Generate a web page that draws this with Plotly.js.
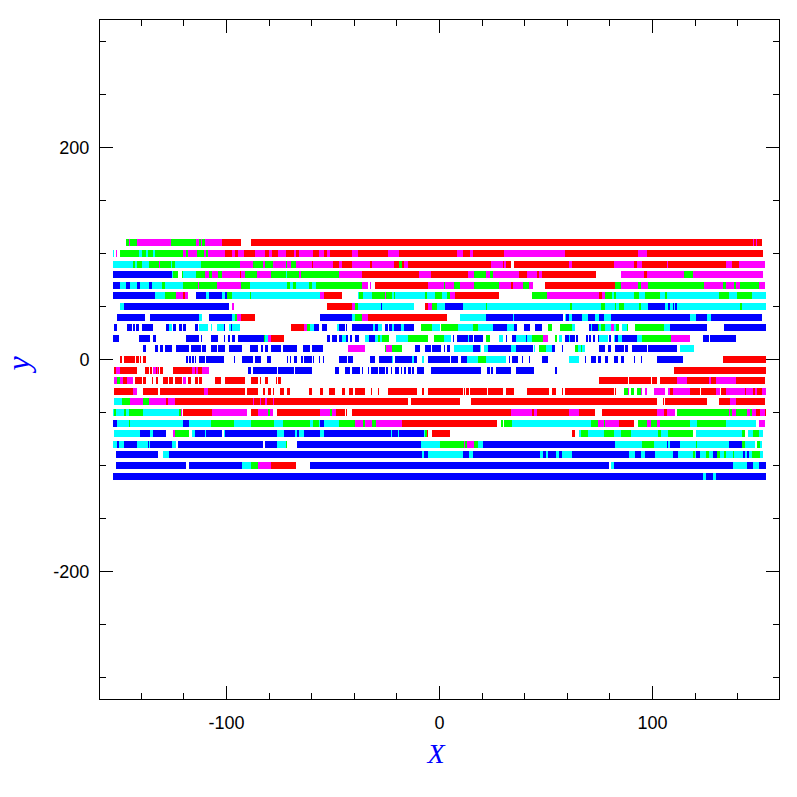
<!DOCTYPE html>
<html><head><meta charset="utf-8">
<script src="https://cdn.plot.ly/plotly-3.0.1.min.js"></script>
<style>html,body{margin:0;padding:0;background:#fff}.scatterlayer path{shape-rendering:crispEdges}</style>
</head><body><div id="chart" style="width:797px;height:797px"></div>
<script>
// Each row: colour code, start x, end x
const row111=['g',-147.4,-145.7,'m',-145.7,-145.1,'g',-145.1,-142.2,'m',-142.2,-126.3,'g',-126.3,-114.5,'m',-114.5,-112.7,'g',-112.7,-112,'m',-112,-111.4,'g',-111.4,-110.2,'m',-110.2,-102.3,'r',-102.3,-93.4,'m',-93.4,-93,'r',-88.7,147.2,'m',147.2,147.7,'r',147.7,148.7,'m',148.7,149.3,'r',149.3,151.5];
const row101=['c',-153.5,-153,'m',-152.1,-151.3,'g',-149.8,-141.2,'c',-141.2,-139.9,'g',-139.9,-138,'c',-138,-136.8,'g',-136.8,-134.6,'c',-134.6,-133.6,'g',-133.6,-128.6,'m',-128.6,-128.2,'g',-128.2,-120.6,'m',-120.6,-118.8,'g',-118.8,-118.3,'m',-118.3,-113.8,'g',-113.8,-110.8,'m',-110.8,-109.4,'g',-109.4,-108.9,'m',-108.9,-100.5,'r',-100.5,-97.6,'m',-97.6,-96.2,'r',-96.2,-94.8,'m',-94.8,-92,'r',-92,-86.8,'m',-86.8,-81.7,'r',-81.7,-80.1,'m',-80.1,-78.5,'r',-78.5,-76,'m',-76,-72.3,'r',-72.3,-68.5,'m',-68.5,-67.6,'r',-67.6,-66,'m',-66,-59.6,'r',-59.6,-56.8,'m',-56.8,-54.4,'r',-54.4,-52.6,'m',-52.6,-51.6,'r',-51.6,-41.3,'m',-41.3,-38.5,'r',-38.5,-24.4,'m',-24.4,-18.8,'r',-18.8,8.4,'m',8.4,10.8,'r',10.8,14.5,'m',14.5,15.5,'r',15.5,30.5,'m',30.5,58.7,'r',58.7,93.4,'m',93.4,97.2,'r',97.2,152.1];
const row91=['c',-153.5,-144.1,'g',-144.1,-143.2,'c',-143.2,-141.8,'g',-141.8,-139.9,'c',-139.9,-136.6,'g',-136.6,-131.9,'m',-131.9,-131.4,'g',-131.4,-126.3,'c',-126.3,-125.8,'g',-125.8,-124.4,'c',-124.4,-112.2,'g',-112.2,-93.9,'m',-93.9,-90.1,'g',-90.1,-89.7,'m',-89.7,-87.8,'g',-87.8,-83.1,'m',-83.1,-82.1,'g',-82.1,-78.4,'m',-78.4,-72.3,'g',-72.3,-71.4,'m',-71.4,-69.9,'g',-69.9,-67.6,'m',-67.6,-60.1,'r',-60.1,-59.6,'m',-59.6,-49.8,'r',-49.8,-47,'m',-47,-46,'r',-46,-41.3,'m',-41.3,-32.4,'r',-32.4,-31.5,'m',-31.5,-21.2,'r',-21.2,-18.8,'g',-18.8,-17.4,'r',-17.4,-16.9,'m',-16.9,-14.6,'r',-14.6,24.4,'m',24.4,29.6,'r',29.6,30.5,'m',30.5,31,'r',31,33.8,'r',35.2,60.6,'m',60.6,62.4,'r',62.4,81.7,'m',81.7,91.5,'r',91.5,92.5,'m',92.5,95.3,'r',95.3,106.6,'m',106.6,107.5,'r',107.5,134.7,'m',134.7,137.5,'r',137.5,140.4,'m',140.4,153];
const row81=['b',-153.5,-125.8,'c',-125.8,-125.3,'g',-125.3,-123,'g',-121.1,-120.2,'c',-120.2,-114.5,'g',-114.5,-110.3,'m',-110.3,-108,'g',-108,-106.6,'m',-106.6,-103.8,'g',-103.8,-102.3,'m',-102.3,-93.9,'r',-93.9,-93,'m',-93,-91.5,'g',-91.5,-85.9,'m',-85.9,-79.3,'g',-79.3,-72.3,'c',-72.3,-71.8,'g',-71.8,-66.2,'m',-66.2,-65.2,'g',-65.2,-47,'m',-47,-36.2,'r',-36.2,-9.4,'m',-9.4,-3.8,'r',-3.8,13.6,'m',13.6,16.4,'g',16.4,21.6,'m',21.6,23.9,'g',23.9,24.9,'m',24.9,37.5,'r',37.5,41.3,'m',41.3,46,'r',46,46.9,'m',46.9,48.3,'r',48.3,73.7,'m',85.4,95.8,'g',95.8,96.2,'r',96.2,97.2,'m',97.2,115,'g',115,118.8,'m',118.8,147.9,'g',147.9,148.3,'m',148.3,152.1];
const row71=['b',-153.5,-149.8,'c',-149.8,-147.4,'b',-147.4,-145.1,'c',-145.1,-141.8,'b',-141.8,-140.4,'c',-140.4,-136.6,'b',-136.6,-135.2,'c',-135.2,-130.5,'g',-130.5,-129.1,'c',-129.1,-120.6,'g',-120.6,-113.6,'m',-113.6,-112.7,'g',-112.7,-104.7,'m',-104.7,-93.4,'g',-93.4,-89.2,'c',-89.2,-71.8,'g',-71.8,-70.4,'c',-70.4,-69,'g',-69,-67.6,'c',-67.6,-61.5,'g',-61.5,-60.1,'c',-60.1,-58.2,'g',-58.2,-36.6,'m',-36.6,-33.8,'g',-33.8,-33.4,'m',-32.4,-32,'r',-30.1,-5.2,'m',-5.2,-3.3,'m',-3.3,2.3,'g',2.3,2.8,'m',2.8,7,'g',7,9.8,'m',9.8,16.4,'g',16.4,28.1,'m',28.1,29.1,'m',29.1,33.8,'r',33.8,34.7,'m',34.7,39.4,'g',39.4,42.2,'m',42.2,44.1,'r',49.7,82.6,'g',82.6,85.4,'m',85.4,93.4,'g',93.4,94.4,'m',94.4,98.1,'g',98.1,124.4,'m',124.4,131,'g',131,131.4,'m',131.4,132.9,'g',132.9,134.7,'m',134.7,138.5,'g',138.5,139,'m',139,141.3,'g',141.3,150.2,'m',150.2,152.6];
const row61=['b',-153.5,-133.8,'c',-133.8,-129.1,'g',-129.1,-123.9,'m',-123.9,-120.6,'r',-120.6,-119.7,'m',-119.7,-118.3,'g',-116.4,-116,'b',-114.5,-109.4,'c',-109.4,-108.4,'b',-108.4,-101.9,'c',-101.9,-100.9,'b',-100.9,-100,'g',-100,-97.2,'c',-97.2,-89.2,'g',-89.2,-88.7,'c',-88.7,-61,'b',-61,-60.6,'c',-60.6,-56.3,'g',-56.3,-55.9,'m',-55.9,-54,'r',-54,-46,'c',-38.5,-37.6,'g',-37.6,-35.7,'c',-35.7,-31.5,'g',-31.5,-25.8,'m',-25.8,-24.9,'g',-24.9,-22.1,'c',-22.1,-21.5,'g',-21.5,-20.7,'c',-20.7,-6.6,'g',-6.6,-6.1,'c',-6.1,-4.2,'g',-4.2,-3.8,'c',-3.8,-1.9,'g',-1.9,1.4,'c',1.4,3.3,'g',3.3,5.1,'m',5.1,7.5,'r',7.5,27.7,'g',43.6,50.7,'m',50.7,75.1,'r',75.1,76.5,'m',76.5,77.5,'g',77.5,81.2,'c',81.2,81.7,'g',81.7,83.1,'c',83.1,91.1,'g',91.1,93.9,'c',93.9,96.7,'g',96.7,103.3,'c',103.3,106.1,'g',106.1,106.6,'c',106.6,131,'g',131,135.7,'c',135.7,139.9,'g',139.9,140.4,'c',140.4,140.8,'g',140.8,146.9,'c',146.9,153.5];
const row51=['c',-150.2,-148.3,'b',-148.3,-99,'m',-97.2,-96.7,'r',-52.6,-40.9,'m',-40.9,-39.5,'g',-39.5,-38.5,'c',-38.5,-27.3,'b',-27.3,-26.8,'c',-26.8,-11.8,'r',-6.6,-5.2,'m',-5.2,-3.3,'g',-3.3,-1,'c',-1,2.8,'b',2.8,11.2,'c',11.2,22,'g',22,22.5,'c',22.5,61.5,'g',61.5,62.4,'c',62.4,76,'g',76,77.5,'c',77.5,82.6,'g',82.6,83.1,'c',83.1,84.5,'g',84.5,86.8,'c',86.8,93.9,'g',93.9,94.4,'c',94.4,98.1,'b',98.1,106.1,'c',106.1,107.5,'b',107.5,108,'c',108,109.8,'b',109.8,110.3,'c',110.3,110.8,'b',110.8,111.7,'c',111.7,141.3,'g',141.3,141.8,'c',141.8,153.5];
const row41=['b',-151.2,-138.5,'b',-135.7,-113.1,'c',-113.1,-111.7,'b',-108.4,-97.2,'c',-97.2,-96.2,'g',-96.2,-95.3,'m',-95.3,-93.4,'r',-93.4,-86.8,'b',-56.3,-40.9,'c',-40.9,-39.5,'g',-39.5,-36.6,'m',-36.6,-33.8,'r',-33.8,3.3,'c',9.4,22,'b',22,34.7,'c',34.7,35.2,'b',35.2,58.2,'c',58.7,59.6,'b',59.6,61,'c',61,62,'b',62,67.1,'c',67.1,69.9,'b',69.9,72.8,'c',72.8,75.1,'b',75.1,77,'c',77,80.7,'b',80.7,117.4,'c',117.4,120.2,'b',120.2,125.8,'c',125.8,127.7,'b',127.7,129.6,'b',129.6,151.2];
const row31=['b',-153,-151.2,'b',-150.2,-149.8,'b',-146.5,-144.6,'b',-144.1,-143.2,'b',-142.7,-141.3,'b',-139.9,-134.3,'b',-128.6,-126.8,'c',-126.8,-125.8,'b',-124.9,-123.5,'b',-122.5,-121.1,'b',-120.6,-119.2,'b',-116.4,-116,'b',-115,-113.6,'c',-112.7,-108.9,'c',-107.5,-107,'m',-107,-106.6,'c',-104.7,-102.3,'g',-102.3,-101.9,'c',-101.9,-101.4,'b',-101.4,-100.5,'c',-99,-98.1,'b',-98.1,-97.2,'c',-97.2,-96.2,'b',-96.2,-95.8,'c',-95.8,-93.9,'r',-69.5,-63.4,'m',-63.4,-62,'g',-62,-60.6,'c',-60.6,-59.1,'b',-59.1,-56.8,'b',-55.4,-53,'c',-49.3,-48.9,'c',-47.9,-47,'b',-47,-44.6,'b',-43.7,-43.2,'b',-41.3,-31,'c',-31,-30.1,'b',-30.1,-28.7,'c',-28.7,-26.8,'b',-25.8,-24.4,'b',-23.5,-22.1,'c',-22.1,-21.2,'b',-21.2,-18.3,'c',-18.3,-16.5,'b',-16.5,-12.2,'c',-10.8,-10.4,'g',-8.5,-3.3,'c',-3.3,0.4,'g',0.9,8.9,'c',8.9,15.9,'g',15.9,18.3,'c',18.3,25.3,'b',25.3,31.9,'c',31.9,33.3,'c',33.3,35.2,'b',35.2,36.6,'b',39.9,42.7,'b',45,48.3,'g',51.1,52.6,'c',52.6,53,'g',56.8,60.6,'c',60.6,61,'g',61,62.4,'c',62.4,63.8,'b',70.4,70.9,'c',70.9,71.8,'b',71.8,74.2,'g',74.2,75.1,'c',75.1,76,'g',76,77.5,'c',77.5,80.3,'m',80.7,81.7,'c',81.7,83.1,'g',83.1,84.5,'c',85.9,87.8,'g',87.8,88.7,'g',92,105.2,'c',105.2,108.4,'b',108.4,125.8,'b',133.8,153.5];
const row21=['b',-153.5,-150.7,'b',-141.3,-135.7,'b',-134.7,-132.9,'b',-119.2,-112.7,'b',-112.2,-111.3,'b',-107.5,-107,'b',-106.6,-103.8,'b',-101.4,-100.5,'b',-99.5,-98.6,'b',-97.2,-95.8,'b',-94.4,-82.6,'g',-82.6,-81.7,'c',-81.7,-80.7,'m',-80.7,-78.9,'r',-78.9,-72.8,'b',-52.6,-51.2,'b',-50.7,-47.9,'b',-47,-46,'c',-46,-43.7,'b',-43.7,-42.8,'b',-41.8,-40.9,'b',-39.5,-37.6,'c',-35.2,-32.9,'b',-32.9,-30.5,'c',-30.5,-29,'g',-29,-28,'c',-28,-27,'g',-27,-25.8,'g',-25.4,-23.5,'c',-20.2,-15,'g',-15,-5.2,'g',-2.8,1.9,'c',1.9,5.6,'b',6.5,7,'b',8,13.6,'c',13.6,14,'b',14,15.9,'b',16.4,20.6,'g',21.6,23.9,'c',27.7,29.6,'b',31.4,31.9,'b',32.4,32.8,'b',34.2,35.7,'c',36.1,40.4,'b',40.4,41.3,'c',41.3,43.2,'g',43.2,48.8,'m',48.8,51.1,'g',54.4,55.4,'c',55.9,57.3,'b',59.1,60.6,'c',60.6,61.5,'b',61.5,63.4,'b',64.3,64.8,'b',69,69.9,'b',70.4,70.9,'b',72.3,73.2,'b',74.6,75.1,'c',75.1,78.9,'b',79.8,80.3,'c',82.1,82.6,'b',82.6,84,'c',84,85.9,'b',85.9,92.5,'c',92.5,95.3,'g',95.3,108.9,'m',108.9,117.4,'g',117.4,117.8,'b',123.5,126.3,'b',126.8,139];
const row11=['b',-139.4,-138,'b',-133.8,-132.4,'b',-131,-130,'b',-129.1,-125.8,'b',-123.9,-117.4,'b',-116.9,-114.5,'b',-114.1,-112.2,'b',-111.3,-109.4,'b',-107.5,-104.7,'b',-103.8,-100.5,'b',-99,-92.5,'b',-89.2,-85,'b',-84,-83.1,'b',-82.1,-80.7,'b',-79.3,-74.2,'b',-73.7,-67.1,'b',-64.3,-61,'b',-60.1,-54.9,'m',-42.8,-35.2,'g',-35.2,-34.8,'g',-25.8,-24.9,'m',-24.9,-22.1,'g',-22.1,-17.4,'b',-16.9,-16.5,'b',-11.3,-9,'b',-6.6,-4.2,'b',-3.3,0.9,'b',1.9,2.8,'b',3.7,4.7,'c',7,15.5,'b',15.9,19.2,'c',19.2,19.7,'b',20.2,20.6,'c',21.1,23,'b',23,33.8,'c',33.8,35.7,'b',35.7,44.1,'c',44.6,45,'g',46.5,50.2,'c',50.2,53,'b',53,54.4,'b',57.7,58.2,'b',58.7,59.1,'g',63.8,64.8,'c',64.8,66.2,'g',66.2,66.7,'c',66.7,68.1,'b',75.1,77.5,'b',79.3,80.3,'b',82.6,83.6,'b',84,86.8,'b',87.3,88.7,'b',90.6,97.2,'b',98.1,111.7,'c',113.1,119.7];
const row1=['r',-151.6,-151.2,'r',-149.8,-149.3,'r',-147.9,-143.2,'r',-142.7,-141.3,'r',-140.8,-140,'r',-139.4,-138,'b',-119.2,-118.3,'b',-117.8,-116.9,'b',-116.4,-115.5,'b',-115,-114.1,'b',-112.7,-110.3,'b',-109.8,-107,'b',-106.6,-101.4,'b',-96.7,-96.2,'b',-92.5,-87.8,'b',-86.8,-84,'b',-82.1,-81.7,'b',-81.2,-80.7,'b',-80.3,-78.9,'b',-74.6,-74.2,'b',-71.8,-70.9,'b',-70.4,-69.5,'b',-68.5,-67.1,'b',-65.2,-64.3,'b',-63.8,-60.1,'b',-59.6,-58.7,'b',-57.7,-57.3,'b',-56.8,-55.9,'b',-54.9,-54,'b',-47.4,-43.2,'b',-42.8,-40.4,'b',-32.4,-30.1,'b',-28.2,-27.7,'b',-27.3,-22.1,'c',-22.1,-21.6,'b',-20.7,-12.7,'c',-12.7,-12.2,'b',-12.2,-10.4,'c',-8,-7.1,'b',-5.2,4.7,'b',5.6,8.9,'b',10.3,13.1,'c',13.1,18.3,'g',18.3,21.6,'c',21.6,31.4,'b',32.8,33.3,'b',34.2,35.7,'b',36.1,37,'b',38.5,39.4,'b',41.8,42.7,'b',47.9,51.1,'c',61,63.4,'g',63.4,63.8,'c',63.8,65.7,'b',68.5,69,'b',70.9,73.7,'b',74.2,75.6,'b',77.9,78.9,'b',81.7,83.6,'b',85.4,86.4,'b',91.5,92,'b',92.5,92.9,'b',94.8,95.3,'b',102.3,103.3,'b',103.7,114.1,'r',132.9,153.5];
const rowM9=['r',-153,-152.1,'m',-152.1,-150.2,'r',-150.2,-148.8,'r',-148.8,-145.5,'r',-145.1,-142.2,'m',-140.8,-140.4,'r',-138.5,-136.6,'r',-136.1,-135.2,'m',-134.3,-133.3,'r',-133.3,-132.8,'m',-132.8,-132.3,'r',-132.3,-131.9,'r',-131,-130,'r',-125.3,-116.4,'m',-116,-115,'r',-115,-114.1,'m',-114.1,-113.6,'r',-113.6,-111.7,'m',-111.7,-108.4,'b',-89.7,-88.3,'b',-87.8,-76.5,'b',-76,-68.5,'b',-68,-60.1,'b',-48.9,-47,'b',-46,-45.6,'b',-44.6,-41.8,'b',-40.9,-37.1,'b',-36.2,-35.7,'b',-33.8,-32.9,'b',-32,-29.1,'b',-28.2,-25.4,'b',-24.9,-24.4,'b',-23,-22.1,'b',-20.7,-18.8,'b',-18.3,-17.4,'b',-16.9,-15.5,'b',-14.6,-13.6,'b',-12.7,-11.8,'b',-10.4,-7.1,'b',-4.2,19.7,'b',22.5,23.5,'b',24.4,25.3,'b',26.7,33.8,'b',36.1,44.6,'b',54.4,55.4,'r',110.3,153.5];
const rowM19=['m',-153,-151.6,'g',-151.6,-150.2,'m',-150.2,-148.8,'r',-148.8,-146.5,'m',-146.5,-145.5,'g',-145.5,-145.1,'m',-145.1,-144.1,'g',-144.1,-143.7,'r',-143.2,-139.9,'r',-139,-137.6,'r',-135.2,-134.7,'r',-132.9,-132.4,'r',-129.6,-127.7,'r',-127.2,-125.3,'r',-124.4,-121.1,'m',-120.6,-119.2,'r',-119.2,-118.8,'r',-118.3,-116.9,'r',-115,-113.6,'r',-112.7,-111.3,'r',-108.4,-108,'r',-105.2,-102.8,'r',-100.5,-91.1,'r',-88.7,-85.4,'r',-84.5,-83.6,'r',-81.7,-80.3,'r',-77,-76.5,'r',-76,-74.6,'r',75.1,88.3,'r',89.2,89.7,'r',90.1,99.5,'r',100,101.9,'r',103.3,111.3,'m',111.3,116.4,'r',116.4,126.3,'m',126.3,127.7,'r',127.7,130,'m',130,139.4,'r',139.4,153];
const rowM29=['r',-152.6,-143.7,'m',-143.7,-142.2,'r',-139.4,-132.4,'r',-131,-110.8,'m',-110.8,-108.9,'r',-108.9,-108.4,'m',-108.4,-108,'r',-108,-107,'m',-107,-106.6,'r',-106.6,-93.4,'r',-93,-91.1,'r',-90.6,-85,'r',-83.1,-81.7,'r',-80.3,-79.3,'r',-78.4,-77.5,'r',-75.1,-73.2,'r',-71.4,-70.4,'r',-61.5,-60.1,'r',-55.9,-54.9,'r',-52.1,-49.3,'r',-46,-44.2,'r',-42.3,-40.4,'r',-39.5,-38.5,'r',-38.1,-35.2,'r',-32,-31.5,'r',-30.5,-30.1,'r',-28.7,-28.2,'r',-24,-10.8,'r',-8,-7.5,'r',-5.2,11.2,'r',11.7,12.2,'r',12.6,14,'r',14.5,22.5,'r',23,30,'r',31.4,35.2,'r',41.3,51.6,'r',52.6,54,'r',54.4,54.9,'r',57.3,58.2,'r',58.7,81.7,'r',82.6,83.1,'g',86.8,88.3,'m',88.3,89.2,'g',89.7,91.5,'g',92.9,94.4,'m',94.4,95.3,'m',96.7,97.2,'m',100.5,106.1,'m',107.5,108,'r',108,109.8,'m',109.8,110.8,'m',110.8,117.4,'r',117.8,122.5,'r',123,126.8,'r',127.2,130,'m',130,131.9,'r',132.4,134.3,'m',134.3,143.2,'r',143.2,144.1,'m',144.1,147.4,'r',147.4,147.9,'m',147.9,149.3,'r',149.3,151.2,'m',151.2,153.5];
const rowM39=['c',-153,-149.3,'g',-149.3,-145.1,'m',-145.1,-139.4,'g',-139.4,-136.6,'m',-136.6,-128.6,'r',-128.6,-127.7,'m',-127.7,-124.4,'r',-124.4,-87.8,'m',-87.8,-87.3,'r',-87.3,-84.5,'m',-84.5,-83.6,'r',-83.6,-81.7,'m',-81.7,-81.2,'r',-81.2,-78.4,'m',-78.4,-77.9,'r',-77.9,-14.6,'r',-13.6,9.8,'r',15,102.3,'r',104.7,105.2,'r',106.1,108,'r',108.4,125.8,'r',131,136.6,'m',136.6,139,'r',139,153];
const rowM49=['c',-153.5,-152.6,'g',-152.6,-152.1,'c',-152.1,-147.9,'g',-147.9,-147,'c',-147,-146,'g',-146,-139,'c',-139,-138.5,'c',-138.5,-122.1,'g',-122.1,-121.6,'m',-121.6,-121.1,'r',-120.6,-107,'m',-107,-90.6,'r',-88.3,-85.4,'m',-85.4,-80.3,'g',-80.3,-79.8,'m',-79.8,-79.3,'m',-78.9,-78.4,'r',-76.5,-55.9,'m',-55.9,-51.2,'g',-51.2,-50.7,'m',-50.7,-48.4,'r',-48.4,-44.6,'r',-43.7,-43.2,'r',-40.9,33.8,'m',33.8,43.6,'r',43.6,44.6,'m',44.6,46,'r',46,60.6,'m',60.6,65.7,'r',65.7,73.2,'r',76.5,101.9,'m',101.9,105.2,'r',105.2,106.6,'m',106.6,110.8,'g',111.7,135.7,'m',135.7,136.6,'g',136.6,137.5,'m',137.5,139,'g',139,144.6,'m',144.6,146,'g',146,146.9,'m',146.9,148.8,'r',148.8,150.7,'m',150.7,152.6,'r',152.6,153.5];
const rowM59=['b',-153.5,-151.2,'c',-151.2,-146,'g',-146,-145.5,'c',-145.5,-142.2,'g',-142.2,-141.8,'c',-141.8,-120.6,'b',-120.6,-117.8,'c',-117.8,-107.5,'g',-107.5,-96.7,'c',-96.7,-91.5,'g',-91.5,-91.1,'c',-91.1,-88.7,'g',-88.7,-77.5,'c',-77.5,-73.7,'g',-73.7,-61,'c',-61,-59.6,'g',-59.6,-56.8,'c',-56.8,-56.3,'b',-56.3,-54.4,'c',-54.4,-47.4,'g',-47.4,-39.9,'m',-39.9,-35.7,'g',-35.7,-35.2,'m',-35.2,-31.5,'g',-31.5,-29.6,'m',-29.6,-17.4,'r',-17.4,27.2,'g',29.1,29.6,'g',30.5,34.2,'c',34.2,70.9,'g',70.9,74.6,'m',74.6,77,'g',77,77.9,'m',77.9,84.5,'r',84.5,91.1,'g',93.4,97.6,'m',97.6,99.5,'g',99.5,101.9,'m',101.9,103.3,'g',103.3,117.4,'c',117.4,121.1,'g',121.1,134.3,'c',134.3,148.8,'m',149.8,152.6];
const rowM69=['c',-153,-140.8,'b',-140.8,-136.1,'c',-136.1,-134.7,'b',-134.7,-128.2,'m',-124.9,-124,'g',-124,-117.4,'c',-116.4,-115,'b',-115,-110.3,'c',-110.3,-109.8,'b',-109.8,-102.3,'c',-101.4,-100.5,'b',-100.5,-76.5,'c',-76.5,-73.2,'b',-73.2,-68,'c',-68,-66.7,'b',-66.7,-66.2,'c',-66.2,-63.4,'b',-63.4,-56.3,'c',-56.3,-54.4,'b',-54.4,-23,'c',-23,-22.1,'b',-22.1,-19.7,'c',-19.7,-18.8,'b',-18.8,-7.5,'c',-7.5,-6.6,'g',-6.6,-5.7,'r',-5.7,-5.2,'r',-3.3,5.1,'r',62,63.4,'m',63.4,63.8,'c',65.7,66.2,'g',66.2,69.9,'c',69.9,77,'g',77,81.7,'c',82.1,85.4,'g',85.4,90.1,'c',90.1,102.8,'g',102.8,104.2,'c',104.2,107.5,'g',107.5,119.2,'c',120.2,142.2,'g',142.2,143.6,'c',145,147.4,'g',147.4,150.2,'c',150.2,151.2,'c',151.6,152.1];
const rowM79=['c',-153.5,-151.6,'b',-151.6,-150.7,'c',-150.7,-147.9,'b',-147.9,-142.2,'c',-142.2,-137.1,'b',-137.1,-136.6,'c',-136.6,-135.7,'b',-135.7,-125.8,'c',-125.8,-123.5,'b',-123,-83.1,'b',-81.7,-76.5,'c',-76.5,-72.3,'g',-72.3,-71.4,'b',-67.1,-8.5,'c',-8.5,0,'g',0,11.7,'m',11.7,12.2,'g',12.2,13.1,'m',13.1,16.4,'g',16.4,18.3,'c',18.3,20.6,'b',20.6,82.6,'c',82.6,95.3,'g',95.3,100.5,'c',100.5,107,'b',107,107.5,'c',107.5,108,'b',108,109.4,'b',109.4,112.7,'c',112.7,120.6,'g',120.6,121.1,'c',121.1,135.7,'b',135.7,136.2,'c',136.2,136.6,'b',136.6,142.2,'g',142.2,143.6,'c',143.6,148.3,'g',149.3,150.7,'c',150.7,151.6];
const rowM89=['b',-152.1,-132.4,'c',-129.6,-127.2,'b',-127.2,-8,'c',-8,-7.1,'b',-7.1,-5.2,'c',-5.2,10.8,'b',10.8,14,'c',14,15.5,'b',15.5,47.4,'c',47.4,48.8,'b',48.8,50.2,'c',50.2,51.1,'b',51.1,54.9,'c',54.9,55.9,'b',55.9,57.3,'c',57.3,62,'b',62,89.2,'c',89.2,92,'b',92,94.8,'c',94.8,96.7,'b',96.7,101.4,'c',101.4,105.2,'b',105.2,105.6,'c',105.6,109.8,'b',109.8,112.2,'c',112.2,119.2,'g',119.2,120.1,'c',120.1,120.6,'b',120.6,122.5,'c',122.5,124.9,'g',124.9,126.3,'c',126.3,128.2,'b',128.2,130.5,'g',130.5,131.9,'c',131.9,133.8,'g',133.8,134.3,'c',134.3,135.7,'g',135.7,136.1,'c',136.1,138,'g',138,138.5,'c',138.5,142.7,'b',142.7,143.6,'c',143.6,144.6,'b',144.6,145.5,'c',145.5,146.9,'g',146.9,150.7,'c',150.7,152.1];
const rowM99=['b',-152.1,-119.2,'b',-117.8,-92.5,'c',-92.5,-88.7,'g',-88.7,-85,'m',-85,-79.3,'r',-79.3,-67.6,'b',-60.6,79.8,'c',80.3,82.1,'b',82.1,138,'c',138,144.6,'b',144.6,147.4,'c',147.4,150.2,'b',150.2,153.5];
const rowM109=['b',-153.5,-133.3,'b',-132.9,123.5,'c',123.5,124.9,'b',124.9,128.6,'c',128.6,129.6,'b',129.6,153.5];

const rowLevels=[110,100,90,80,70,60,50,40,30,20,10,0,-10,-20,-30,-40,-50,-60,-70,-80,-90,-100,-110];
const rowRuns=[row111,row101,row91,row81,row71,row61,row51,row41,row31,row21,row11,row1,rowM9,rowM19,rowM29,rowM39,rowM49,rowM59,rowM69,rowM79,rowM89,rowM99,rowM109];
const colourCodes={b:'#0000ff',c:'#00ffff',g:'#00ff00',m:'#ff00ff',r:'#ff0000'};
const xTickVals=[-100,0,100], xTickText=['-100','0','100'];
const yTickVals=[-200,0,200], yTickText=['\u00a0\u2009-200','0','200'];

const traces=Object.keys(colourCodes).map(code=>{
  const x=[],y=[];
  rowRuns.forEach((runs,i)=>{
    for(let k=0;k<runs.length;k+=3){
      if(runs[k]===code){x.push(runs[k+1],runs[k+2],null);y.push(rowLevels[i],rowLevels[i],null);}
    }
  });
  return {type:'scatter',mode:'lines',x,y,connectgaps:false,hoverinfo:'skip',showlegend:false,
    line:{color:colourCodes[code],width:7,simplify:false}};
});
const tickFont={family:'Liberation Sans, Arial, sans-serif',size:18,color:'#000'};
const axisBase={ticks:'inside',ticklen:13,tickwidth:1,tickcolor:'#000',showline:true,linecolor:'#000',linewidth:1,mirror:'allticks',
  showgrid:false,zeroline:false,tickmode:'array',tickfont:tickFont,automargin:false};
const layout={width:797,height:797,margin:{l:100,r:18,t:20,b:98,pad:0},paper_bgcolor:'#fff',plot_bgcolor:'#fff',showlegend:false,
  xaxis:Object.assign({},axisBase,{range:[-159.4,159.4],tickvals:xTickVals,ticktext:xTickText,ticklabelstandoff:7,
    minor:{dtick:20,ticks:'inside',ticklen:6,tickwidth:1,tickcolor:'#000',showgrid:false},
    title:{text:'<i>X</i>&nbsp;',standoff:11,font:{family:'Liberation Serif, serif',size:28,color:'#0000ff'}}}),
  yaxis:Object.assign({},axisBase,{range:[-320,320],tickvals:yTickVals,ticktext:yTickText,ticklabelstandoff:6,
    minor:{dtick:50,ticks:'inside',ticklen:6,tickwidth:1,tickcolor:'#000',showgrid:false},
    title:{text:'<i>y</i>&nbsp;',standoff:33,font:{family:'Liberation Serif, serif',size:32,color:'#0000ff'}}})
};
Plotly.newPlot('chart',traces,layout,{displayModeBar:false,staticPlot:true});
</script></body></html>
